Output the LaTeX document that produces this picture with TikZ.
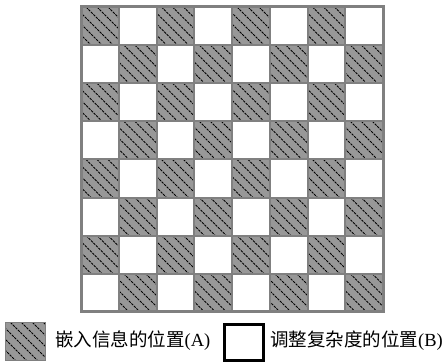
\documentclass[tikz,border=0pt]{standalone}
\usepackage{fontspec}
\setmainfont{Liberation Serif}
\newfontfamily\cjk{Noto Sans CJK SC}
\definecolor{cellgray}{RGB}{152,152,152}
\definecolor{linegray}{RGB}{128,128,128}
\begin{document}
\begin{tikzpicture}[x=1pt,y=-1pt,
  hatch/.style={black, line width=0.9pt, dash pattern=on 2.5pt off 1pt},
  gridline/.style={linegray, line width=2pt},
  border/.style={linegray, line width=3pt},
  legtext/.style={anchor=west, inner sep=0pt, font=\fontsize{18.5}{20}\selectfont}]
\useasboundingbox (0,0) rectangle (446,363);
\def\cw{37.75}
\def\ch{38.1}
% checkerboard cells
\foreach \r in {0,...,7} {
  \foreach \c in {0,...,7} {
    \pgfmathtruncatemacro\pp{mod(\r+\c,2)}
    \ifnum\pp=0
      \pgfmathsetmacro\xa{81+\c*\cw}
      \pgfmathsetmacro\ya{7+\r*\ch}
      \begin{scope}
        \clip (\xa,\ya) rectangle ++(\cw,\ch);
        \fill[cellgray] (\xa,\ya) rectangle ++(\cw,\ch);
        \foreach \d in {-39,-28,...,40} {
          \draw[hatch] (\xa+\d,\ya) -- ++(45,45);
        }
      \end{scope}
    \fi
  }
}
% grid lines
\foreach \i in {1,...,7} {
  \draw[gridline] (81+\i*\cw,7) -- (81+\i*\cw,7+8*\ch);
  \draw[gridline] (81,7+\i*\ch) -- (81+8*\cw,7+\i*\ch);
}
\draw[border] (81,7) rectangle (81+8*\cw,7+8*\ch);
% legend
\node (boxA) [rectangle, minimum width=40pt, minimum height=38pt, inner sep=0pt,
  fill=cellgray, draw=linegray, line width=1.5pt,
  path picture={
    \foreach \d in {-39,-28,...,45} {
      \draw[hatch] ([xshift=\d pt]path picture bounding box.north west) -- ++(50,50);
    }
  }] at (25.5,341.5) {};
\node (txtA) [legtext] at (55,341) {{\cjk 嵌入信息的位置}(A)};
\node (boxB) [rectangle, minimum width=39pt, minimum height=36pt, inner sep=0pt,
  fill=white, draw=black, line width=3pt] at (243.5,342.5) {};
\node (txtB) [legtext] at (270,341) {{\cjk 调整复杂度的位置}(B)};
\end{tikzpicture}
\end{document}
